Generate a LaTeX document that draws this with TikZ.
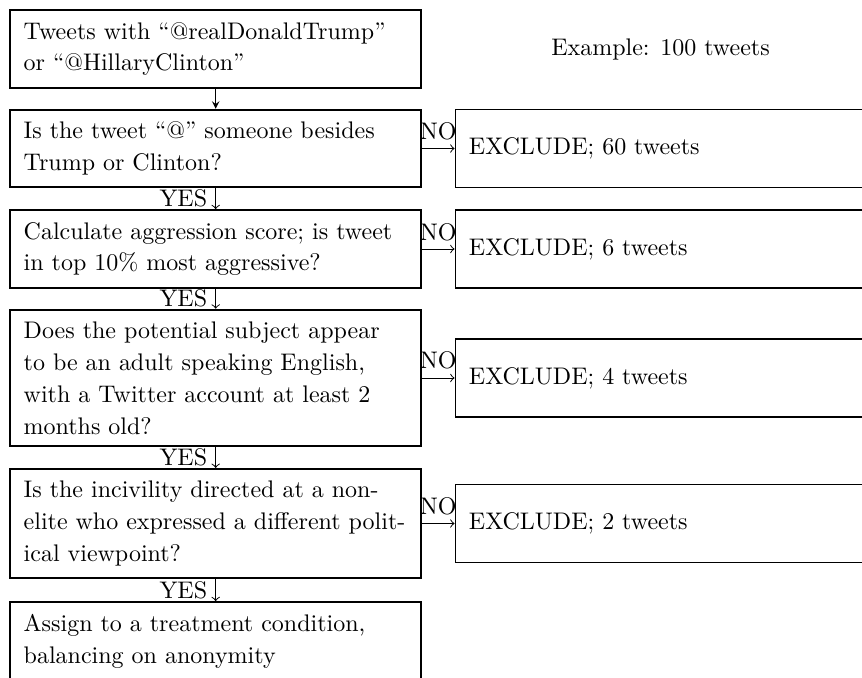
\documentclass[tikz,border=0pt]{standalone}
\usepackage{tikz}
\begin{document}
\begin{tikzpicture}[
    stepbox/.style={draw=black, thick, anchor=west, text width=160pt,
      inner xsep=5.6pt, inner ysep=5pt, align=left,
      font=\fontsize{10}{13.3}\selectfont},
    exclbox/.style={stepbox, minimum height=32.5pt}]
  \useasboundingbox (0,0) rectangle (12.625,-9.93);
  % left column
  \node [stepbox] (tweets) at (0.136,-0.718) {Tweets with ``@realDonaldTrump''\\or ``@HillaryClinton''};
  \node [stepbox] (besides) at (0.136,-2.175) {Is the tweet ``@'' someone besides\\Trump or Clinton?};
  \node [stepbox] (aggr) at (0.136,-3.647) {Calculate aggression score; is tweet\\in top 10\% most aggressive?};
  \node [stepbox] (adult) at (0.136,-5.536) {Does the potential subject appear\\to be an adult speaking English,\\with a Twitter account at least 2\\months old?};
  \node [stepbox] (elite) at (0.136,-7.667) {Is the incivility directed at a non-\\elite who expressed a different polit-\\ical viewpoint?};
  \node [stepbox] (assign) at (0.136,-9.39) {Assign to a treatment condition,\\balancing on anonymity};
  % right column
  \node at (9.674,-0.718) {Example: 100 tweets};
  \node [exclbox] (ex60) at (6.657,-2.175) {EXCLUDE; 60 tweets};
  \node [exclbox] (ex6) at (6.657,-3.647) {EXCLUDE; 6 tweets};
  \node [exclbox] (ex4) at (6.657,-5.536) {EXCLUDE; 4 tweets};
  \node [exclbox] (ex2) at (6.657,-7.667) {EXCLUDE; 2 tweets};
  % arrows
  \draw [-stealth] (tweets) -- (besides);
  \draw [->] (besides) -- node [left] {YES} (aggr);
  \draw [->] (aggr) -- node [left] {YES} (adult);
  \draw [->] (adult) -- node [left] {YES} (elite);
  \draw [->] (elite) -- node [left] {YES} (assign);
  \draw [->] (besides) -- node [above] {NO} (ex60);
  \draw [->] (aggr) -- node [above] {NO} (ex6);
  \draw [->] (adult) -- node [above] {NO} (ex4);
  \draw [->] (elite) -- node [above] {NO} (ex2);
\end{tikzpicture}
\end{document}
